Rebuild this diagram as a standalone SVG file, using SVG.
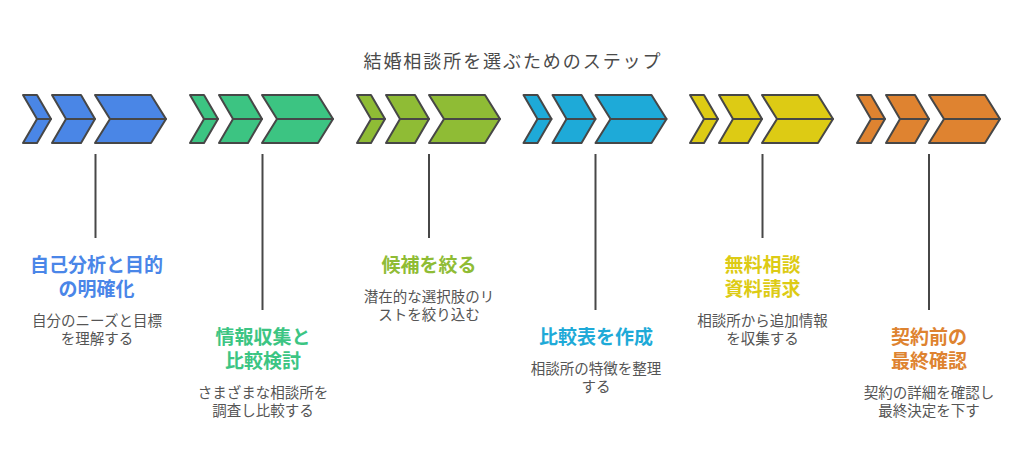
<svg xmlns="http://www.w3.org/2000/svg" width="1024" height="464" viewBox="0 0 1024 464">
<defs>
<style>
.t{font-family:"Liberation Sans","Noto Sans CJK JP",sans-serif;text-anchor:middle}
.ttl{font-size:18px;fill:#4a4a4a}
.h{font-size:19px;font-weight:bold}
.d{font-size:14.5px;fill:#555}
.sh{stroke:#474747;stroke-width:2;stroke-linejoin:round}
.ln{stroke:#474747;stroke-width:2;fill:none}
.blue{fill:#4a86e6}.green{fill:#3cc482}.olive{fill:#8fbc35}.cyan{fill:#1eaad8}.yellow{fill:#ddcb14}.orange{fill:#df8330}
</style>
<g id="chev">
<path class="sh" d="M0,0 L14,0 L28,24 L14,24 Z"/>
<path class="sh" d="M14,24 L28,24 L14,48 L0,48 Z"/>
<path class="sh" d="M29,0 L58,0 L72,24 L43,24 Z"/>
<path class="sh" d="M43,24 L72,24 L58,48 L29,48 Z"/>
<path class="sh" d="M72,0 L128,0 L143,24 L87,24 Z"/>
<path class="sh" d="M87,24 L143,24 L128,48 L72,48 Z"/>
</g>
</defs>
<rect width="1024" height="464" fill="#fff"/>
<text id="title" class="t ttl" x="512" y="68" textLength="297" lengthAdjust="spacing">結婚相談所を選ぶためのステップ</text>

<g id="connectors">
<line class="ln" x1="95.5" y1="154" x2="95.5" y2="238"/>
<line class="ln" x1="262.5" y1="154" x2="262.5" y2="310"/>
<line class="ln" x1="429" y1="154" x2="429" y2="238"/>
<line class="ln" x1="595.5" y1="154" x2="595.5" y2="310"/>
<line class="ln" x1="762.5" y1="154" x2="762.5" y2="238"/>
<line class="ln" x1="929" y1="154" x2="929" y2="310"/>
</g>

<g id="step1">
<use href="#chev" class="blue" transform="translate(23,95)"/>
<text class="t h" fill="#4a86e8" x="96.5" y="272">自己分析と目的<tspan x="96.5" dy="24">の明確化</tspan></text>
<text class="t d" x="97" y="326">自分のニーズと目標<tspan x="97" dy="18">を理解する</tspan></text>
</g>

<g id="step2">
<use href="#chev" class="green" transform="translate(190,95)"/>
<text class="t h" fill="#3cc583" x="263" y="344">情報収集と<tspan x="263" dy="24">比較検討</tspan></text>
<text class="t d" x="263" y="398">さまざまな相談所を<tspan x="263" dy="18">調査し比較する</tspan></text>
</g>

<g id="step3">
<use href="#chev" class="olive" transform="translate(357,95)"/>
<text class="t h" fill="#8fbc35" x="429" y="272">候補を絞る</text>
<text class="t d" x="429" y="302">潜在的な選択肢のリ<tspan x="429" dy="18">ストを絞り込む</tspan></text>
</g>

<g id="step4">
<use href="#chev" class="cyan" transform="translate(523.5,95)"/>
<text class="t h" fill="#1eaad8" x="596" y="344">比較表を作成</text>
<text class="t d" x="596" y="374">相談所の特徴を整理<tspan x="596" dy="18">する</tspan></text>
</g>

<g id="step5">
<use href="#chev" class="yellow" transform="translate(690,95)"/>
<text class="t h" fill="#ddcb14" x="762.5" y="272">無料相談<tspan x="762.5" dy="24">資料請求</tspan></text>
<text class="t d" x="762.5" y="326">相談所から追加情報<tspan x="762.5" dy="18">を収集する</tspan></text>
</g>

<g id="step6">
<use href="#chev" class="orange" transform="translate(857,95)"/>
<text class="t h" fill="#de8330" x="929" y="344">契約前の<tspan x="929" dy="24">最終確認</tspan></text>
<text class="t d" x="929" y="398">契約の詳細を確認し<tspan x="929" dy="18">最終決定を下す</tspan></text>
</g>
</svg>
